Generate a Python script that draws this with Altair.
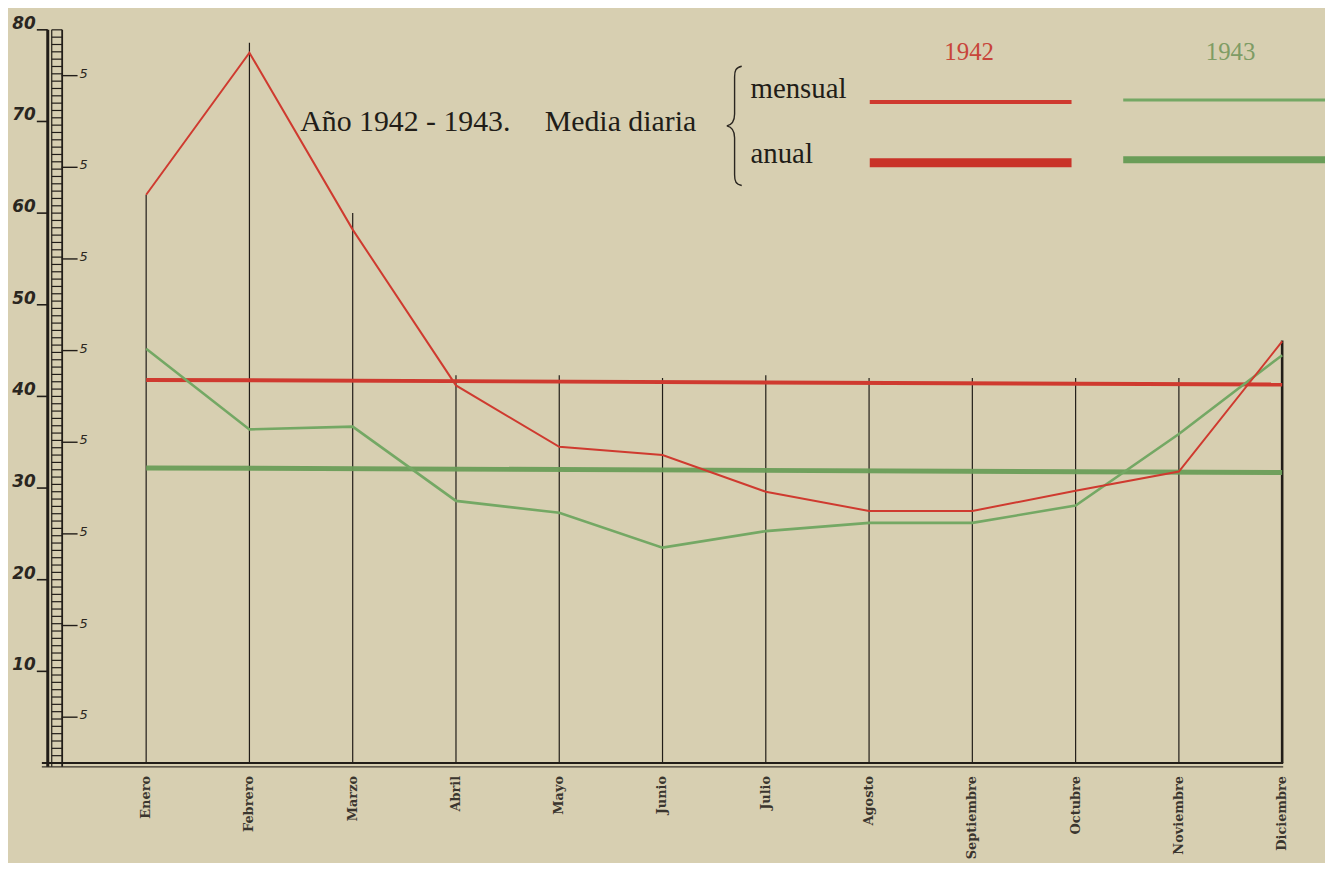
import altair as alt
import pandas as pd

# ---------------- data ----------------
meses = ["Enero", "Febrero", "Marzo", "Abril", "Mayo", "Junio", "Julio",
         "Agosto", "Septiembre", "Octubre", "Noviembre", "Diciembre"]
mensual_1942 = [62.0, 77.5, 58.2, 41.2, 34.5, 33.6, 29.6, 27.5, 27.5, 29.7, 31.8, 46.0]
mensual_1943 = [45.2, 36.4, 36.7, 28.6, 27.3, 23.5, 25.3, 26.2, 26.2, 28.1, 35.9, 44.5]
anual_1942 = [41.8, 41.3]          # at Enero and Diciembre
anual_1943 = [32.2, 31.7]          # at Enero and Diciembre
tope_lineas = [62.0, 78.6, 60.0, 42.3, 42.3, 42.0, 42.3, 42.0, 42.0, 42.0, 42.0, 46.1]
marcas_y = [10, 20, 30, 40, 50, 60, 70, 80]
etiquetas_y = ["10", "20", "30", "40", "50", "60", "70", "80"]
marcas_5 = [5, 15, 25, 35, 45, 55, 65, 75]
regla = [round(i * 0.8, 2) for i in range(101)]

# ---------------- styling ----------------
PAPER = "#d7cfb1"
INK = "#211d18"
RED = "#cf3a2f"
GREEN = "#74a864"
GREEN_THICK = "#6a9d58"
W, H = 1325, 855

xs = alt.Scale(domain=[-1.3378, 11.4148], nice=False, zero=False)
ys = alt.Scale(domain=[-10.63, 82.10], nice=False, zero=False)

df = pd.DataFrame({
    "m": list(range(12)),
    "mes": meses,
    "v42": mensual_1942,
    "v43": mensual_1943,
    "top": tope_lineas,
    "cero": [0] * 12,
})
df_anual = pd.DataFrame({"m": [0, 11], "a42": anual_1942, "a43": anual_1943})

X = lambda f: alt.X(f, scale=xs, axis=None)
Y = lambda f: alt.Y(f, scale=ys, axis=None)

# month vertical lines
vlines = alt.Chart(df).transform_filter("datum.m < 11").mark_rule(
    color=INK, strokeWidth=1.2).encode(x=X("m:Q"), y=Y("cero:Q"), y2="top:Q")
vline_dic = alt.Chart(df).transform_filter("datum.m == 11").mark_rule(
    color=INK, strokeWidth=2.6).encode(x=X("m:Q"), y=Y("cero:Q"), y2="top:Q")

# baseline (double line)
base_df = pd.DataFrame({"x0": [-1.01], "x1": [11.01], "y0": [0.0], "y1": [-0.42]})
base1 = alt.Chart(base_df).mark_rule(color=INK, strokeWidth=2.2).encode(
    x=X("x0:Q"), x2="x1:Q", y=Y("y0:Q"))
base2 = alt.Chart(base_df).mark_rule(color="#3a342c", strokeWidth=1.4).encode(
    x=X("x0:Q"), x2="x1:Q", y=Y("y1:Q"))

# ruler on the left
ruler_df = pd.DataFrame({"a": [-0.42], "b": [80]})
ruler_left = alt.Chart(ruler_df).mark_rule(color=INK, strokeWidth=3).encode(
    x=alt.value(40), y=Y("a:Q"), y2="b:Q")
ruler_inner = alt.Chart(ruler_df).mark_rule(color=INK, strokeWidth=1.2).encode(
    x=alt.value(44), y=Y("a:Q"), y2="b:Q")
ruler_right = alt.Chart(ruler_df).mark_rule(color=INK, strokeWidth=1.8).encode(
    x=alt.value(54.5), y=Y("a:Q"), y2="b:Q")
ruler_sq = alt.Chart(pd.DataFrame({"t": regla})).mark_rule(
    color=INK, strokeWidth=1.2).encode(x=alt.value(44), x2=alt.value(54.5), y=Y("t:Q"))

major_df = pd.DataFrame({"v": marcas_y, "lab": etiquetas_y})
major_ticks = alt.Chart(major_df).mark_rule(color=INK, strokeWidth=1.6).encode(
    x=alt.value(29), x2=alt.value(40), y=Y("v:Q"))
major_labels = alt.Chart(major_df).mark_text(
    align="right", baseline="alphabetic", dy=-1, font="DejaVu Sans",
    fontStyle="italic", fontWeight="bold", fontSize=17, color="#2a2620"
).encode(x=alt.value(28), y=Y("v:Q"), text="lab:N")

minor_df = pd.DataFrame({"v": marcas_5, "lab": ["5"] * len(marcas_5)})
minor_ticks = alt.Chart(minor_df).mark_rule(color=INK, strokeWidth=1.4).encode(
    x=alt.value(54), x2=alt.value(70), y=Y("v:Q"))
minor_labels = alt.Chart(minor_df).mark_text(
    align="left", baseline="middle", dy=-2, font="DejaVu Sans",
    fontStyle="italic", fontSize=13, color="#2a2620"
).encode(x=alt.value(72), y=Y("v:Q"), text="lab:N")

# data lines
ann43 = alt.Chart(df_anual).mark_line(color=GREEN_THICK, strokeWidth=5, opacity=0.95).encode(
    x=X("m:Q"), y=Y("a43:Q"))
ann42 = alt.Chart(df_anual).mark_line(color=RED, strokeWidth=4).encode(
    x=X("m:Q"), y=Y("a42:Q"))
line43 = alt.Chart(df).mark_line(color=GREEN, strokeWidth=2.6).encode(
    x=X("m:Q"), y=Y("v43:Q"))
line42 = alt.Chart(df).mark_line(color=RED, strokeWidth=2).encode(
    x=X("m:Q"), y=Y("v42:Q"))

# month labels
month_labels = alt.Chart(df).mark_text(
    angle=270, align="right", baseline="middle", font="DejaVu Serif",
    fontWeight="bold", fontSize=13, color="#3a352e"
).encode(x=X("m:Q"), y=alt.value(770), text="mes:N")

# legend / title block
def txt(s, x, y, size, color=INK, align="left", font="Liberation Serif"):
    return alt.Chart(pd.DataFrame({"t": [s]})).mark_text(
        align=align, baseline="alphabetic", font=font, fontSize=size, color=color
    ).encode(x=alt.value(x), y=alt.value(y), text="t:N")

def seg(x0, x1, y, color, w):
    return alt.Chart(pd.DataFrame({"k": [0]})).mark_rule(color=color, strokeWidth=w).encode(
        x=alt.value(x0), x2=alt.value(x1), y=alt.value(y))

brace_path = ("M0.12,-1 C0.02,-0.98 0,-0.93 0,-0.82 L0,-0.2 C0,-0.08 -0.04,-0.02 -0.13,0 "
              "C-0.04,0.02 0,0.08 0,0.2 L0,0.82 C0,0.93 0.02,0.98 0.12,1")
brace = alt.Chart(pd.DataFrame({"k": [0]})).mark_point(
    shape=brace_path, filled=False, size=14400, strokeWidth=1.4, color="#2a2620", opacity=1
).encode(x=alt.value(731), y=alt.value(116))

legend = [
    txt("Año 1942 - 1943.", 294, 121, 30),
    txt("Media diaria", 540, 121, 30),
    txt("mensual", 747, 88, 29),
    txt("anual", 747, 153, 29),
    txt("1942", 967, 50, 25, color="#c8443a", align="center"),
    txt("1943", 1230, 50, 25, color="#7e9c64", align="center"),
    seg(867, 1070, 92, RED, 4),
    seg(1122, 1325, 90, GREEN, 3),
    seg(867, 1070, 153, "#c93328", 9),
    seg(1122, 1325, 150, GREEN_THICK, 7),
    brace,
]

chart = alt.layer(
    vlines, vline_dic, base1, base2,
    ruler_left, ruler_inner, ruler_right, ruler_sq,
    major_ticks, major_labels, minor_ticks, minor_labels,
    ann43, ann42, line43, line42, month_labels,
    *legend
).properties(
    width=W, height=H, autosize=alt.AutoSizeParams(type="none"),
    padding={"left": 0, "top": 0, "right": 0, "bottom": 0},
    background=PAPER,
).configure_view(stroke=None, fill=PAPER)

chart.save("out.html", embed_options={"renderer": "svg", "actions": False})
